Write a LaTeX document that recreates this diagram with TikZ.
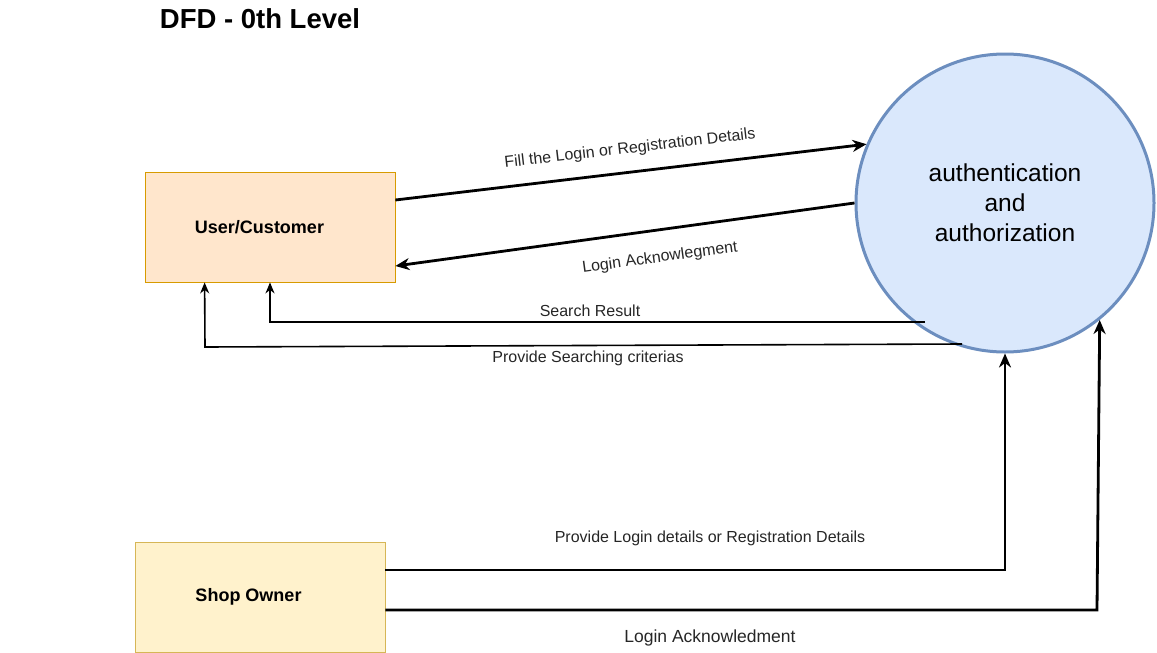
\documentclass[tikz,border=0pt]{standalone}
\usepackage{fontspec}
\setmainfont{Liberation Sans}
\usepackage{tikz}
\usetikzlibrary{arrows,arrows.meta,positioning}
\usetikzlibrary{shapes.geometric}
\definecolor{userfill}{HTML}{FFE6CC}
\definecolor{userline}{HTML}{D79B00}
\definecolor{shopfill}{HTML}{FFF2CC}
\definecolor{shopline}{HTML}{D6B656}
\definecolor{procfill}{HTML}{DAE8FC}
\definecolor{procline}{HTML}{6C8EBF}
\tikzstyle{arrow} = [line width=2.8pt,-{Stealth[length=14pt,width=12pt,inset=4.5pt]}]
\tikzstyle{thinarrow} = [line width=1.6pt,-{Stealth[length=11pt,width=9pt,inset=3.5pt]}]
\tikzstyle{entity} = [rectangle, minimum width=250pt, minimum height=110pt, line width=0.8pt, font=\fontsize{18}{20}\selectfont\bfseries]
\tikzstyle{flowlabel} = [font=\fontsize{16}{18}\selectfont, text=black!85]

\begin{document}
\begin{tikzpicture}[x=1pt,y=-1pt]
        \useasboundingbox (0,0) rectangle (1157,653);
        \node[font=\fontsize{27.5}{30}\selectfont\bfseries] (title) at (260,19) {DFD - 0th Level};
        \node[entity, fill=userfill, draw=userline] (user) at (270,227) {\hspace*{-21pt}User/Customer};
        \node[entity, fill=shopfill, draw=shopline] (shop) at (260,597) {\hspace*{-23pt}Shop Owner};
        \node[circle, minimum size=298pt, fill=procfill, draw=procline, line width=3pt, align=center,
              font=\fontsize{24.5}{30}\selectfont] (auth) at (1005,203) {authentication\\and\\authorization};
        \coordinate (srch) at (925,322);
        \coordinate (crit) at (962,344);
        \coordinate (bend) at (1097,610);
        % user <-> process
        \draw[arrow] ([yshift=27pt]user.east) -- (auth.157);
        \draw[arrow] (auth.west) -- ([yshift=-39pt]user.east);
        \draw[thinarrow] (srch) -| (user.south);
        \draw[thinarrow] (crit) -- (205,347) -- ([xshift=60pt]user.south west);
        % shop owner -> process
        \draw[arrow] ([yshift=27pt]shop.east) -| (auth.south);
        \draw[arrow] ([yshift=-13pt]shop.east) -- (bend) -- (auth.-51);
        % labels
        \node[flowlabel, rotate=6.6] (l1) at (630,149) {Fill the Login or Registration Details};
        \node[flowlabel, rotate=7.8] (l2) at (660,258) {Login Acknowlegment};
        \node[flowlabel] (l3) at (590,311) {Search Result};
        \node[flowlabel] (l4) at (588,358) {Provide Searching criterias};
        \node[flowlabel] (l5) at (710,538) {Provide Login details or Registration Details};
        \node[flowlabel, font=\fontsize{17.5}{20}\selectfont] (l6) at (710,638) {Login Acknowledment};
    \end{tikzpicture}
\end{document}
